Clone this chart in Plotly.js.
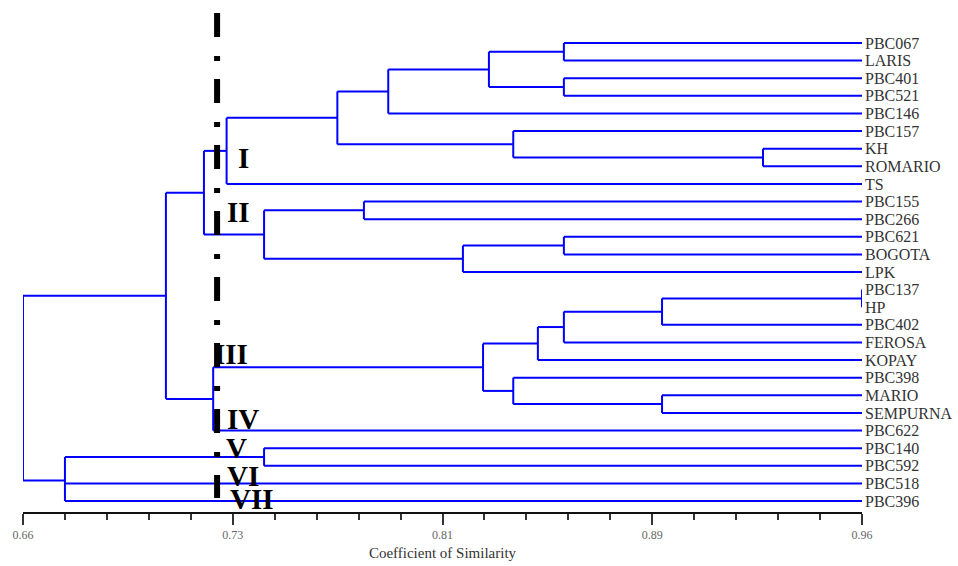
<!DOCTYPE html>
<html><head><meta charset="utf-8">
<script src="https://cdn.plot.ly/plotly-3.0.1.min.js"></script>
<style>html,body{margin:0;padding:0;background:#fff}#chart{width:958px;height:566px}</style>
</head><body><div id="chart"></div>
<script>
// Leaves, top to bottom
const leaves = ["PBC067","LARIS","PBC401","PBC521","PBC146","PBC157","KH","ROMARIO","TS",
  "PBC155","PBC266","PBC621","BOGOTA","LPK","PBC137","HP","PBC402","FEROSA","KOPAY",
  "PBC398","MARIO","SEMPURNA","PBC622","PBC140","PBC592","PBC518","PBC396"];

// Merge steps (children may be leaves or earlier merges)
const mergeIds = ["m1","m2","m3","m4","m5","m6","m7","m8","m9","m10","m11","m12","m13",
  "m14","m15","m16","m17","m18","m19","m20","m21","m22","m23","m24","m25"];
const mergeChildren = [
  ["PBC067","LARIS"], ["PBC401","PBC521"], ["m1","m2"], ["m3","PBC146"],
  ["KH","ROMARIO"], ["PBC157","m5"], ["m4","m6"], ["m7","TS"],
  ["PBC155","PBC266"], ["PBC621","BOGOTA"], ["m10","LPK"], ["m9","m11"], ["m8","m12"],
  ["PBC137","HP"], ["m14","PBC402"], ["m15","FEROSA"], ["m16","KOPAY"],
  ["MARIO","SEMPURNA"], ["PBC398","m18"], ["m17","m19"], ["m20","PBC622"],
  ["m13","m21"], ["PBC140","PBC592"], ["m23","PBC518","PBC396"], ["m22","m24"]
];
const mergeSimilarity = [0.8534,0.8534,0.8266,0.7906,0.9246,0.8353,0.7724,0.7328,
  0.7819,0.8534,0.8173,0.7462,0.7247,0.9600,0.8885,0.8534,0.8441,0.8885,0.8353,
  0.8245,0.7280,0.7111,0.7462,0.6750,0.6600];
const leafSimilarity = 0.96;
const cutLevel = 0.7294;

const clusterNames = ["I","II","III","IV","V","VI","VII"];
const tickValues = [0.66,0.735,0.81,0.885,0.96];
const tickLabels = ["0.66","0.73","0.81","0.89","0.96"];

// Build dendrogram segments
const pos = {};
leaves.forEach((n,i)=>{ pos[n] = {x: leafSimilarity, y: i}; });
const lx = [], ly = [];
mergeIds.forEach((id,k)=>{
  const h = mergeSimilarity[k];
  const ch = mergeChildren[k].map(c=>pos[c]);
  const ys = ch.map(p=>p.y);
  const yMean = ys.reduce((a,b)=>a+b,0)/ys.length;
  ch.forEach(p=>{ lx.push(p.x, h, null); ly.push(p.y, p.y, null); });
  lx.push(h, h, null); ly.push(Math.min(...ys), Math.max(...ys), null);
  pos[id] = {x: h, y: yMean};
});

const serif = '"Liberation Serif", "Times New Roman", serif';
const labelPos = [[0.7387,6.53],[0.7369,9.59],[0.7344,17.66],[0.7387,21.35],[0.7365,22.99],[0.7387,24.58],[0.7419,25.89]];

const data = [{
  type:'scatter', mode:'lines', x: lx, y: ly,
  line:{color:'#0000ff', width:2}, hoverinfo:'skip', showlegend:false
}];

const layout = {
  width:958, height:566,
  margin:{l:23, r:96, t:10, b:54},
  paper_bgcolor:'#fff', plot_bgcolor:'#fff',
  showlegend:false,
  xaxis:{
    range:[0.66,0.96], showgrid:false, zeroline:false,
    showline:true, linecolor:'#111', linewidth:2,
    tickmode:'array', tickvals:tickValues, ticktext:tickLabels,
    ticks:'outside', ticklen:11, tickwidth:2, tickcolor:'#333',
    minor:{tick0:0.66, dtick:0.015, ticks:'outside', ticklen:6, tickwidth:2, tickcolor:'#333', showgrid:false},
    tickfont:{family:serif, size:12, color:'#666'},
    title:{text:'Coefficient of Similarity', font:{family:serif, size:15, color:'#333'}, standoff:6}
  },
  yaxis:{
    range:[26.624,-1.873], side:'right', showgrid:false, zeroline:false, showline:false,
    tickmode:'array', tickvals:leaves.map((_,i)=>i), ticktext:leaves, ticks:'',
    ticklabelstandoff:2,
    tickfont:{family:serif, size:16, color:'#333'}
  },
  shapes:[{
    type:'line', xref:'x', yref:'y', x0:cutLevel, x1:cutLevel, y0:-1.70, y1:25.83,
    line:{color:'#000', width:6, dash:'24px,19px,5px,18px'}
  }],
  annotations: clusterNames.map((t,i)=>({
    x: labelPos[i][0], y: labelPos[i][1], xref:'x', yref:'y', text:'<b>'+t+'</b>',
    showarrow:false, xanchor:'center', yanchor:'middle',
    font:{family:serif, size:29, color:'#000'}
  }))
};

Plotly.newPlot('chart', data, layout, {displayModeBar:false, staticPlot:true});
</script>
</body></html>
